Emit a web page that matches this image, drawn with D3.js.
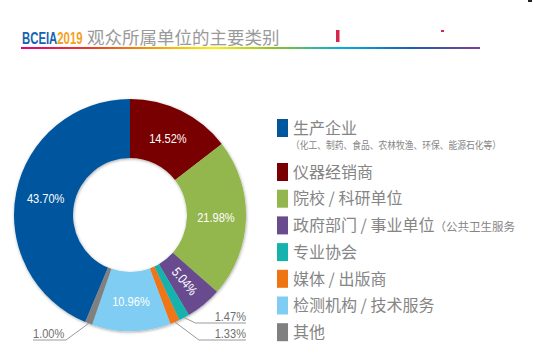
<!DOCTYPE html>
<html><head><meta charset="utf-8">
<script src="https://cdn.jsdelivr.net/npm/d3@7"></script>
<style>
html,body{margin:0;padding:0;background:#fff;}
svg{display:block;}
</style></head>
<body>
<script>
// ---- data ----
const categories = ["生产企业","仪器经销商","院校 / 科研单位","政府部门 / 事业单位","专业协会","媒体 / 出版商","检测机构 / 技术服务","其他"];
const values = [43.70,14.52,21.98,5.04,1.47,1.33,10.96,1.00];
const valueLabels = ["43.70%","14.52%","21.98%","5.04%","1.47%","1.33%","10.96%","1.00%"];
const colors = ["#00579e","#780000","#93b64e","#684c8e","#16b3ae","#ef7412","#7fcdf2","#808080"];
const legendNotes = ["（化工、制药、食品、农林牧渔、环保、能源石化等）","","","（公共卫生服务","","","",""];
const titleBrand = ["BCEIA","2019"];
const titleText = "观众所属单位的主要类别";

const W = 533, H = 355;
const svg = d3.select("body").append("svg").attr("width", W).attr("height", H);
const defs = svg.append("defs");

// rainbow gradient
const grad = defs.append("linearGradient").attr("id","rainbow").attr("x1","0%").attr("x2","100%");
[["0%","#e4007f"],["15%","#ea3a2a"],["28%","#f39800"],["42%","#fff000"],["55%","#8fc31f"],["70%","#00b0e0"],["85%","#1d5fb0"],["100%","#7b3f98"]]
  .forEach(([o,c])=>grad.append("stop").attr("offset",o).attr("stop-color",c));

const shadow = defs.append("filter").attr("id","shadow").attr("x","-20%").attr("y","-20%").attr("width","140%").attr("height","140%");
shadow.append("feDropShadow").attr("dx",0.5).attr("dy",1).attr("stdDeviation",1.6).attr("flood-color","#000").attr("flood-opacity",0.35);

// ---- title ----
const title = svg.append("text").attr("transform","translate(22,44) scale(0.71,1)");
title.append("tspan").text(titleBrand[0]).attr("fill","#1462b0")
  .attr("font-family","'Liberation Sans',Arial,sans-serif").attr("font-weight","bold").attr("font-size",16);
title.append("tspan").text(titleBrand[1]).attr("fill","#f4a11e")
  .attr("font-family","'Liberation Sans',Arial,sans-serif").attr("font-weight","bold").attr("font-size",16);
svg.append("text").attr("x",87).attr("y",44).text(titleText)
  .attr("font-family","'Noto Sans CJK SC',sans-serif").attr("font-size",17.5).attr("fill","#9a9a9a");
svg.append("rect").attr("x",21).attr("y",47).attr("width",459).attr("height",2).attr("fill","url(#rainbow)");
// small marks from the original image
svg.append("rect").attr("x",336).attr("y",30).attr("width",3.5).attr("height",12).attr("fill","#d6264c");
svg.append("rect").attr("x",441).attr("y",30).attr("width",3).attr("height",2).attr("fill","#d6264c");
svg.append("rect").attr("x",528).attr("y",0).attr("width",4).attr("height",2).attr("fill","#222");

// ---- donut ----
const cx = 130, cy = 215, R = 116, r = 57;
const total = d3.sum(values);
const start = -values[0] / total * 2 * Math.PI;
const pie = d3.pie().sort(null).value(d => d).startAngle(start).endAngle(start + 2*Math.PI);
const arcs = pie(values);
const arc = d3.arc().innerRadius(r).outerRadius(R);
const g = svg.append("g").attr("transform",`translate(${cx},${cy})`);
g.append("g").attr("filter","url(#shadow)")
  .selectAll("path").data(arcs).join("path")
  .attr("d", arc).attr("fill", (d,i) => colors[i]);

const numFont = "'Liberation Sans',Arial,sans-serif";
const squeeze = 0.82;
const mid = (d) => (d.startAngle + d.endAngle) / 2;
const labelArc = d3.arc().innerRadius(86).outerRadius(86);
arcs.forEach((d,i) => {
  if (values[i] < 2) return;
  const [x,y] = labelArc.centroid(d);
  let rot = 0;
  if (values[i] < 8) rot = mid(d) * 180 / Math.PI - 90;
  g.append("text").attr("transform",`translate(${x},${y}) rotate(${rot}) scale(${squeeze},1)`)
    .attr("text-anchor","middle").attr("dy","0.35em")
    .attr("font-family",numFont).attr("font-size",13.5).attr("fill","#fff")
    .text(valueLabels[i]);
});

// outside labels for small slices
const small = arcs.map((d,i)=>({d,i})).filter(o => values[o.i] < 2);
const rightSmall = small.filter(o => Math.sin(mid(o.d)) >= 0).sort((a,b)=>mid(a.d)-mid(b.d));
const leftSmall = small.filter(o => Math.sin(mid(o.d)) < 0);
const rowYs = [R - 8, R + 9];
function leader(o, rowY, side) {
  const a = mid(o.d);
  const sx = Math.sin(a) * R, sy = -Math.cos(a) * R;
  const ex = sx + side * ((rowY - sy) + 6);
  const endX = side > 0 ? R : -97;
  g.append("polyline").attr("points",`${sx},${sy} ${ex},${rowY} ${endX},${rowY}`)
    .attr("fill","none").attr("stroke","#9a9a9a").attr("stroke-width",1);
  g.append("text").attr("transform",`translate(${endX},${rowY - 2.5}) scale(${squeeze},1)`)
    .attr("text-anchor", side > 0 ? "end" : "start")
    .attr("font-family",numFont).attr("font-size",13.5).attr("fill","#6f6f6f")
    .text(valueLabels[o.i]);
}
rightSmall.forEach((o,k) => leader(o, rowYs[k], 1));
leftSmall.forEach((o,k) => leader(o, rowYs[1], -1));

// ---- legend ----
const legendY = (i) => i === 0 ? 128 : 172 + (i - 1) * 26.7;
const lg = svg.append("g");
categories.forEach((c,i) => {
  const y = legendY(i);
  lg.append("rect").attr("x",277).attr("y",y-9).attr("width",11).attr("height",18).attr("fill",colors[i]);
  const t = lg.append("text").attr("x",293).attr("y",y).attr("dy","0.36em")
    .attr("font-family","'Noto Sans CJK SC',sans-serif").attr("font-size",16).attr("fill","#858585");
  t.append("tspan").text(c);
  if (i === 3 && legendNotes[i]) {
    t.append("tspan").text(legendNotes[i]).attr("font-size",11.5);
  }
});
lg.append("text").attr("x",291).attr("y",legendY(0)+17).attr("dy","0.36em")
  .attr("font-family","'Noto Sans CJK SC',sans-serif").attr("font-size",10).attr("fill","#858585")
  .attr("textLength",210).attr("lengthAdjust","spacingAndGlyphs")
  .text(legendNotes[0]);
</script>
</body></html>
